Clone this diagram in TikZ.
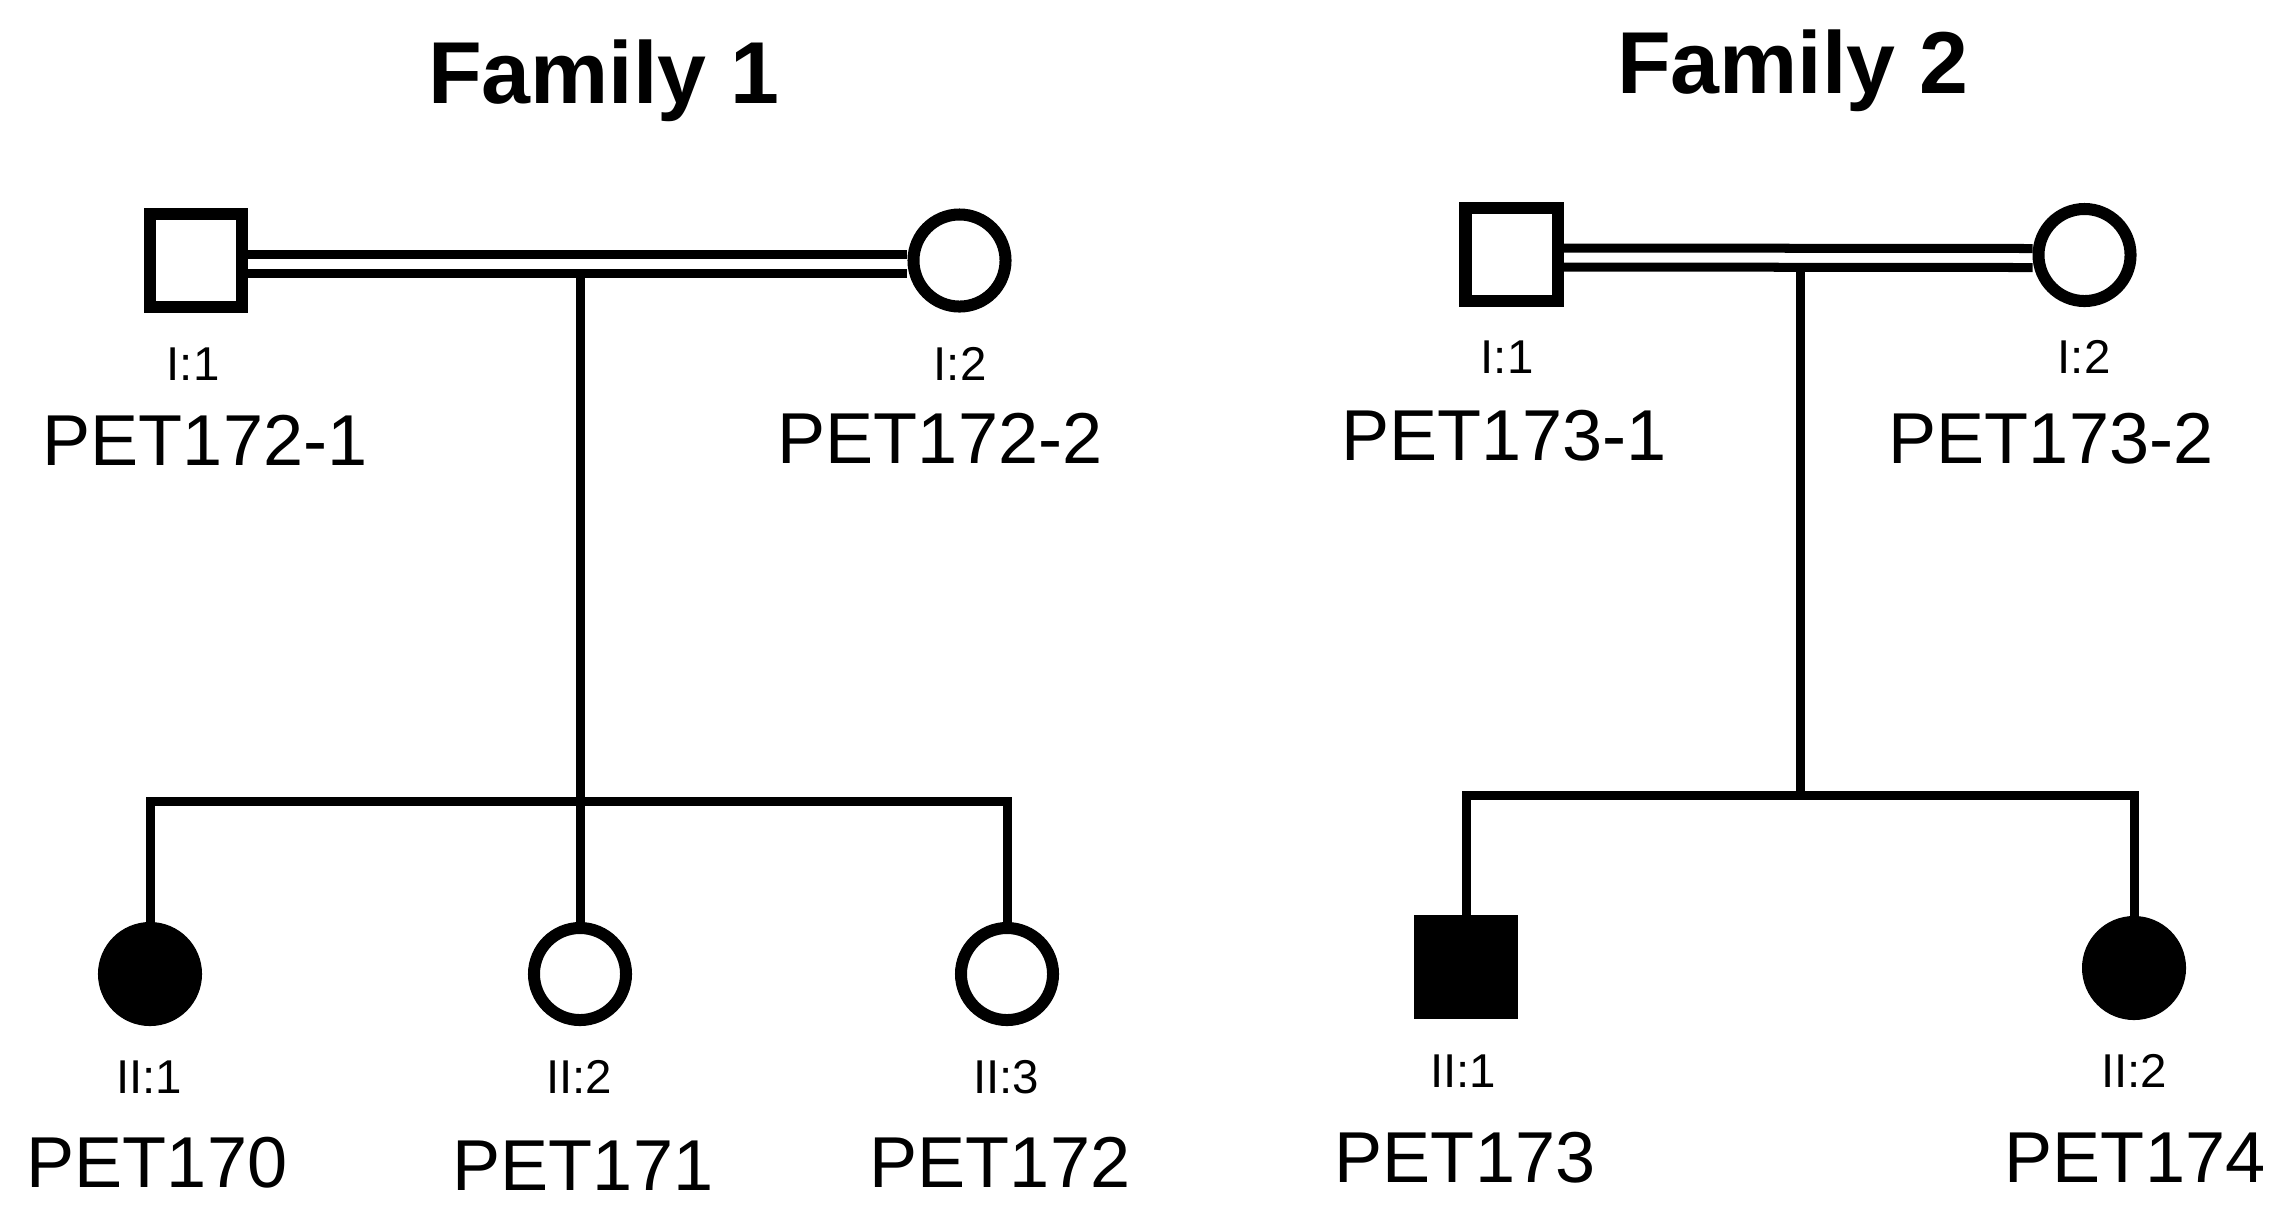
\documentclass[tikz,border=0pt]{standalone}
\usepackage{fontspec}
\setmainfont{Liberation Sans}
\begin{document}
\begin{tikzpicture}[x=0.01cm,y=-0.01cm,
  male/.style={draw,rectangle,line width=0.12cm,minimum size=0.92cm,inner sep=0pt,fill=white},
  female/.style={draw,circle,line width=0.12cm,minimum size=0.92cm,inner sep=0pt,fill=white},
  aff/.style={fill=black},
  rel/.style={line width=0.09cm},
  gen/.style={anchor=base,inner sep=0pt,font=\fontsize{13.5}{14}\selectfont},
  pid/.style={anchor=base,inner sep=0pt,font=\fontsize{20.5}{22}\selectfont},
  ttl/.style={anchor=base,inner sep=0pt,font=\fontsize{25}{27}\selectfont\bfseries}]
\useasboundingbox (0,0) rectangle (2283,1214);
% ---------- Family 1 ----------
\node[ttl] (t1) at (604,103) {Family 1};
\node[male] (a1) at (196,260.5) {};
\node[female] (a2) at (959.5,260.5) {};
\node[female,aff] (c1) at (150,974) {};
\node[female] (c2) at (580,974) {};
\node[female] (c3) at (1007,974) {};
\coordinate (m1) at (580,273);
\coordinate (s1) at (580,801);
\draw[rel] ([yshift=0.065cm]a1.east) -- ([yshift=0.065cm]a2.west);
\draw[rel] ([yshift=-0.125cm]a1.east) -- ([yshift=-0.125cm]a2.west);
\draw[rel] (m1) -- (s1);
\draw[rel] (c1.north) -- (c1.north |- s1) -- (c3.north |- s1) -- (c3.north);
\draw[rel] (c2.north) -- (c2.north |- s1);
\node[gen] (g11) at (193,380) {I:1};
\node[gen] (g12) at (960,380) {I:2};
\node[pid] (p11) at (205,465) {PET172-1};
\node[pid] (p12) at (940,463) {PET172-2};
\node[gen] (g21) at (149,1093) {II:1};
\node[gen] (g22) at (579,1093) {II:2};
\node[gen] (g23) at (1006,1093) {II:3};
\node[pid] (p21) at (157,1187) {PET170};
\node[pid] (p22) at (583,1190) {PET171};
\node[pid] (p23) at (1000,1187) {PET172};
% ---------- Family 2 ----------
\node[ttl] (t2) at (1793,93) {Family 2};
\node[male] (b1) at (1511.5,254.5) {};
\node[female] (b2) at (2084.5,255) {};
\node[male,aff] (d1) at (1466,967) {};
\node[female,aff] (d2) at (2134,968) {};
\coordinate (m2) at (1800,267);
\coordinate (s2) at (1800,795);
\draw[rel] ([yshift=0.065cm]b1.east) -- ([yshift=0.065cm]b2.west);
\draw[rel] ([yshift=-0.125cm]b1.east) -- ([yshift=-0.125cm]b2.west);
\draw[rel] (m2) -- (s2);
\draw[rel] (d1.north) -- (d1.north |- s2) -- (d2.north |- s2) -- (d2.north);
\node[gen] (h11) at (1507,373) {I:1};
\node[gen] (h12) at (2084,373) {I:2};
\node[pid] (q11) at (1504,460) {PET173-1};
\node[pid] (q12) at (2051,463) {PET173-2};
\node[gen] (h21) at (1463,1087) {II:1};
\node[gen] (h22) at (2134,1087) {II:2};
\node[pid] (q21) at (1465,1182) {PET173};
\node[pid] (q22) at (2135,1182) {PET174};
\end{tikzpicture}
\end{document}
